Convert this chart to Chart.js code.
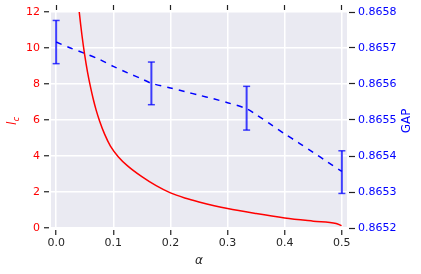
<!DOCTYPE html>
<html>
<head>
<meta charset="utf-8">
<script src="https://cdn.jsdelivr.net/npm/chart.js@4/dist/chart.umd.min.js"></script>
<style>
  body { margin: 0; background: #fff; }
  canvas { display: block; }
</style>
</head>
<body>
<canvas id="gapChart" width="421" height="274"></canvas>
<script>
// values
const alphaLc = [0.036, 0.040, 0.045, 0.050, 0.055, 0.060, 0.065, 0.070, 0.076, 0.085, 0.095, 0.109, 0.125, 0.15, 0.175, 0.2, 0.225, 0.25, 0.3, 0.35, 0.4, 0.45, 0.49, 0.4995];
const lcValues = [13.4, 12.13, 10.75, 9.6, 8.65, 7.85, 7.15, 6.55, 5.95, 5.2, 4.55, 3.95, 3.45, 2.85, 2.35, 1.95, 1.67, 1.45, 1.08, 0.8, 0.56, 0.38, 0.25, 0.13];

const alphaGap = [0, 0.025, 0.05, 0.075, 0.1, 0.125, 0.15, 0.1667, 0.2, 0.225, 0.25, 0.275, 0.3, 0.3333, 0.35, 0.375, 0.4, 0.425, 0.45, 0.475, 0.5];
const gapValues = [0.8657165, 0.86570, 0.865685, 0.865669, 0.865649, 0.865631, 0.865614, 0.865602, 0.865589, 0.865579, 0.865569, 0.865559, 0.865548, 0.8655315, 0.865515, 0.8654885, 0.8654615, 0.865436, 0.86541, 0.8653835, 0.865357];

// error bars on GAP
const errAlpha = [0, 1 / 6, 1 / 3, 0.5];
const errLow = [0.8656565, 0.8655425, 0.865472, 0.865296];
const errHigh = [0.8657765, 0.865661, 0.8655935, 0.8654145];

const xTicks = [0, 0.1, 0.2, 0.3, 0.4, 0.5];
const lcTicks = [0, 2, 4, 6, 8, 10, 12];
const gapTicks = [0.8652, 0.8653, 0.8654, 0.8655, 0.8656, 0.8657, 0.8658];

const FONT = 'DejaVu Sans';

function setTicks(list) {
    return function (scale) {
        scale.ticks = list.map(v => ({ value: v }));
    };
}

// seaborn-like plot background
const bgPlugin = {
    id: 'plotBg',
    beforeDraw(chart) {
        const { ctx, chartArea } = chart;
        ctx.save();
        ctx.fillStyle = '#EAEAF2';
        ctx.fillRect(chartArea.left, chartArea.top, chartArea.right - chartArea.left, chartArea.bottom - chartArea.top);
        ctx.restore();
    }
};

// axis titles (l_c with subscript, rotated GAP, alpha)
const titlePlugin = {
    id: 'axisTitles',
    afterDraw(chart) {
        const ctx = chart.ctx;
        ctx.save();
        ctx.translate(13, 121);
        ctx.rotate(-Math.PI / 2);
        ctx.fillStyle = 'red';
        ctx.textBaseline = 'alphabetic';
        ctx.textAlign = 'left';
        ctx.font = 'italic 12px ' + FONT;
        ctx.fillText('l', -4, 3);
        ctx.font = 'italic 8.5px ' + FONT;
        ctx.fillText('c', -0.5, 5.5);
        ctx.restore();

        ctx.save();
        ctx.translate(407, 121);
        ctx.rotate(-Math.PI / 2);
        ctx.fillStyle = 'blue';
        ctx.textAlign = 'center';
        ctx.textBaseline = 'middle';
        ctx.font = '12px ' + FONT;
        ctx.fillText('GAP', 0, 0);
        ctx.restore();

        ctx.save();
        ctx.fillStyle = '#262626';
        ctx.textAlign = 'center';
        ctx.textBaseline = 'middle';
        ctx.font = 'italic 12px ' + FONT;
        ctx.fillText('α', 199, 261);
        ctx.restore();
    }
};

const datasets = [{
    label: 'l_c',
    data: alphaLc.map((a, i) => ({ x: a, y: lcValues[i] })),
    yAxisID: 'y',
    borderColor: 'red',
    borderWidth: 1.5,
    pointRadius: 0,
    showLine: true,
    cubicInterpolationMode: 'monotone'
}, {
    label: 'GAP',
    data: alphaGap.map((a, i) => ({ x: a, y: gapValues[i] })),
    yAxisID: 'y1',
    borderColor: 'blue',
    borderWidth: 1.5,
    borderDash: [6, 6],
    pointRadius: 0,
    showLine: true,
    tension: 0.3
}];

errAlpha.forEach((a, i) => {
    datasets.push({
        label: 'err' + i,
        data: [{ x: a, y: errLow[i] }, { x: a, y: errHigh[i] }],
        yAxisID: 'y1',
        borderColor: 'rgba(0, 0, 255, 0.75)',
        borderWidth: 2,
        showLine: true,
        pointStyle: 'line',
        pointRadius: 3.5,
        pointBorderWidth: 1.5,
        pointBorderColor: 'rgba(0, 0, 255, 0.75)'
    });
});

new Chart(document.getElementById('gapChart'), {
    type: 'scatter',
    data: { datasets: datasets },
    options: {
        responsive: false,
        animation: false,
        layout: { padding: 0 },
        plugins: {
            legend: { display: false },
            tooltip: { enabled: false }
        },
        scales: {
            x: {
                type: 'linear',
                position: 'bottom',
                min: -0.009,
                max: 0.509,
                afterBuildTicks: setTicks(xTicks),
                afterFit: s => { s.height = 46; },
                border: { display: false },
                grid: {
                    color: '#ffffff',
                    lineWidth: 1.5,
                    tickLength: 7,
                    tickColor: '#222',
                    tickWidth: 1.2,
                    tickBorderDash: [5, 10],
                    tickBorderDashOffset: 13
                },
                ticks: {
                    color: '#262626',
                    padding: 2,
                    font: { family: FONT, size: 11 },
                    callback: v => v.toFixed(1)
                }
            },
            x2: {
                type: 'linear',
                position: 'top',
                min: -0.009,
                max: 0.509,
                afterBuildTicks: setTicks(xTicks),
                afterFit: s => { s.height = 12; },
                border: { display: false },
                grid: {
                    drawOnChartArea: false,
                    tickLength: 7,
                    tickColor: '#222',
                    tickWidth: 1.2,
                    tickBorderDash: [5, 10]
                },
                ticks: { display: false }
            },
            y: {
                type: 'linear',
                position: 'left',
                min: 0,
                max: 12,
                afterBuildTicks: setTicks(lcTicks),
                afterFit: s => { s.width = 51; },
                border: { display: false },
                grid: {
                    color: '#ffffff',
                    lineWidth: 1.5,
                    tickLength: 7,
                    tickColor: '#222',
                    tickWidth: 1.2,
                    tickBorderDash: [5, 10]
                },
                ticks: {
                    color: 'red',
                    padding: 4,
                    font: { family: FONT, size: 11 }
                }
            },
            y1: {
                type: 'linear',
                position: 'right',
                min: 0.8652,
                max: 0.8658,
                afterBuildTicks: setTicks(gapTicks),
                afterFit: s => { s.width = 74; },
                border: { display: false },
                grid: {
                    drawOnChartArea: false,
                    tickLength: 8,
                    tickColor: '#222',
                    tickWidth: 1.2,
                    tickBorderDash: [6, 10],
                    tickBorderDashOffset: 14
                },
                ticks: {
                    color: 'blue',
                    padding: 3,
                    font: { family: FONT, size: 11 },
                    callback: v => v.toFixed(4)
                }
            }
        }
    },
    plugins: [bgPlugin, titlePlugin]
});
</script>
</body>
</html>
